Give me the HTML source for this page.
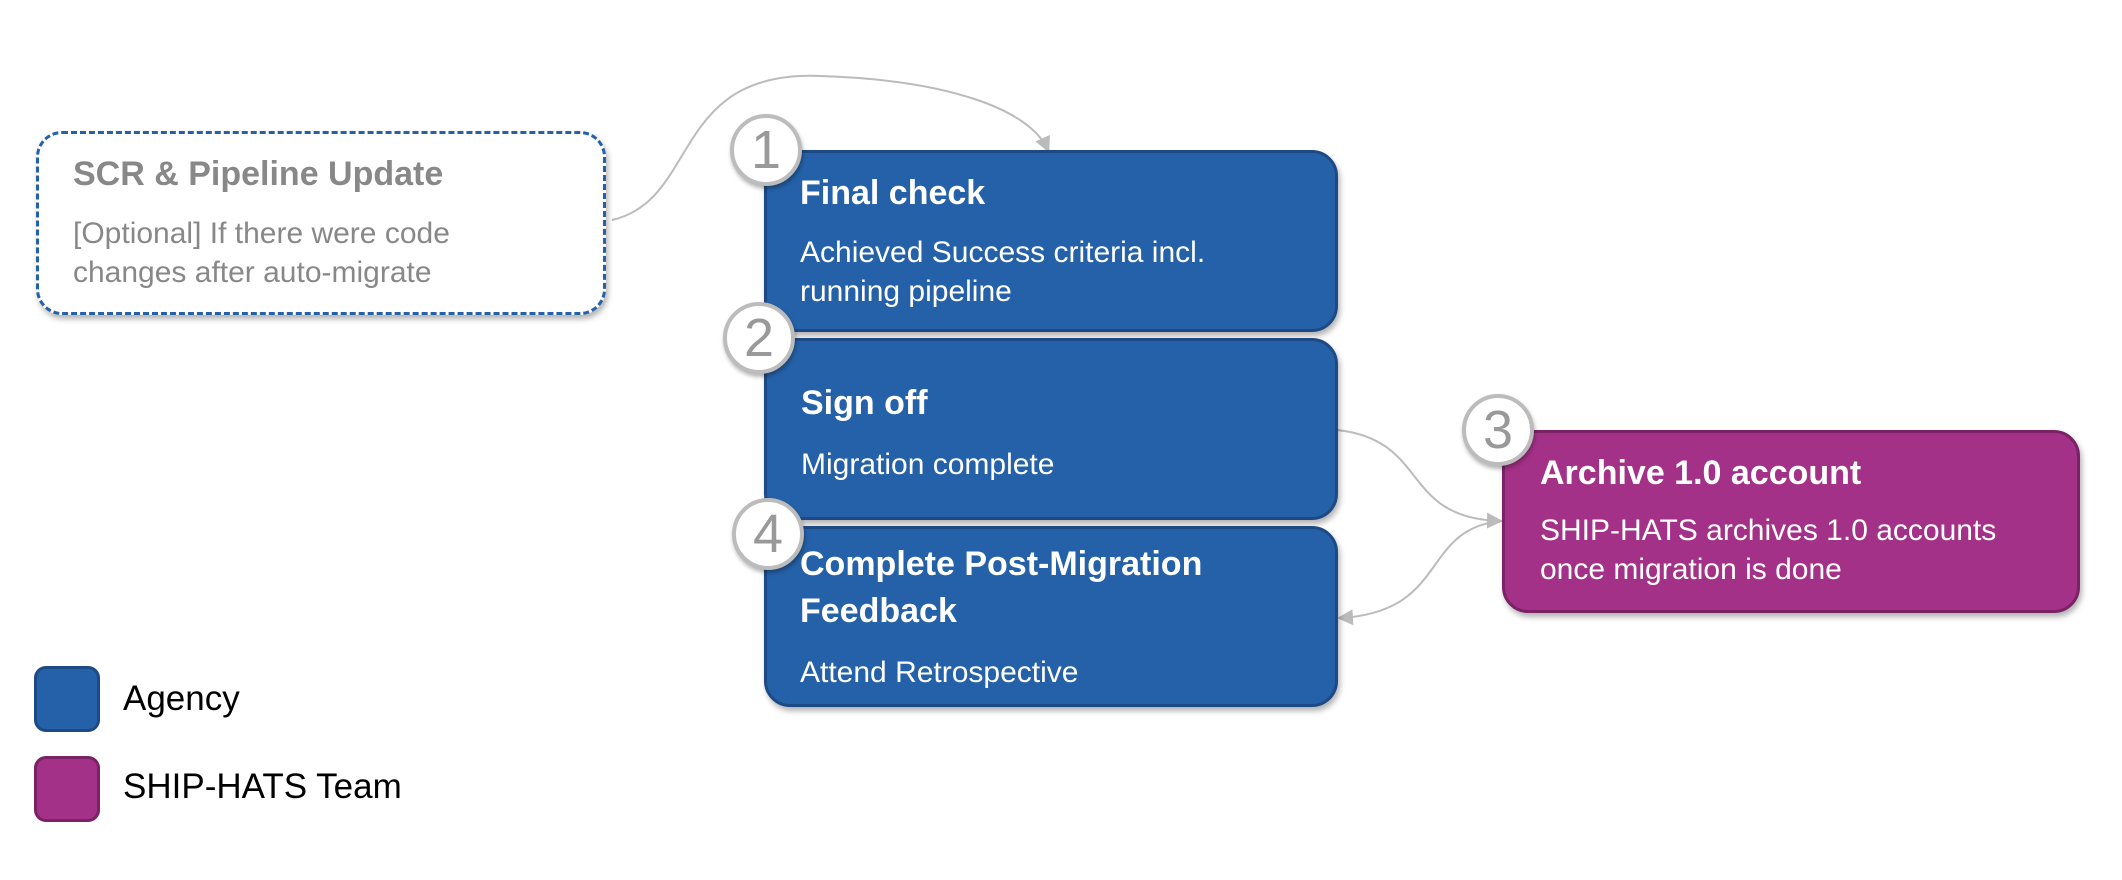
<!DOCTYPE html>
<html><head><meta charset="utf-8"><style>
body{margin:0;width:2122px;height:880px;background:#fff;position:relative;overflow:hidden;font-family:"Liberation Sans",sans-serif}
.b{position:absolute;box-sizing:border-box;border-radius:26px;color:#fff;box-shadow:2px 4px 6px rgba(0,0,0,0.3)}
.blue{background:#2561a8;border:3px solid #1d4a85}
.pink{background:#a43188;border:3px solid #7a2265}
.t{position:absolute;font-weight:bold;font-size:34px;white-space:nowrap;line-height:40px}
.d{position:absolute;font-size:30px;white-space:nowrap;line-height:39px}
.c{position:absolute;width:72px;height:72px;border-radius:50%;background:#fff;border:4px solid #bcbcbc;box-sizing:border-box;color:#999;font-size:54px;text-align:center;line-height:64px;box-shadow:1px 3px 4px rgba(0,0,0,0.3)}
.leg{position:absolute;font-size:35px;color:#000;white-space:nowrap}
</style></head><body>
<svg width="2122" height="880" style="position:absolute;left:0;top:0">
<defs><marker id="a" markerWidth="16" markerHeight="16" refX="13" refY="8" orient="auto" markerUnits="userSpaceOnUse" viewBox="0 0 16 16"><path d="M0,0 L16,8 L0,16 z" fill="#bbb"/></marker></defs>
<g fill="none" stroke="#bbb" stroke-width="2">
<path d="M612,220 C700,200 670,70 820,76 C950,80 1030,110 1048,150" marker-end="url(#a)"/>
<path d="M1337,430 C1430,440 1400,518 1500,521" marker-end="url(#a)"/>
<path d="M1502,521 C1420,528 1450,612 1340,618" marker-end="url(#a)"/>
</g></svg>
<div class="b" style="left:36px;top:131px;width:570px;height:184px;background:#fff;border:3px dashed #2561a8;color:#888">
<div class="t" style="left:34px;top:20px;color:#888">SCR &amp; Pipeline Update</div>
<div class="d" style="left:34px;top:80px;color:#888">[Optional] If there were code<br>changes after auto-migrate</div></div>
<div class="b blue" style="left:764px;top:150px;width:574px;height:182px">
<div class="t" style="left:33px;top:20px">Final check</div>
<div class="d" style="left:33px;top:80px">Achieved Success criteria incl.<br>running pipeline</div></div>
<div class="b blue" style="left:764px;top:338px;width:574px;height:182px">
<div class="t" style="left:34px;top:42px">Sign off</div>
<div class="d" style="left:34px;top:104px">Migration complete</div></div>
<div class="b blue" style="left:764px;top:526px;width:574px;height:181px">
<div class="t" style="left:33px;top:12px;line-height:47px">Complete Post-Migration<br>Feedback</div>
<div class="d" style="left:33px;top:124px">Attend Retrospective</div></div>
<div class="b pink" style="left:1502px;top:430px;width:578px;height:183px">
<div class="t" style="left:35px;top:20px">Archive 1.0 account</div>
<div class="d" style="left:35px;top:78px">SHIP-HATS archives 1.0 accounts<br>once migration is done</div></div>
<div class="c" style="left:730px;top:114px">1</div>
<div class="c" style="left:723px;top:302px">2</div>
<div class="c" style="left:732px;top:498px">4</div>
<div class="c" style="left:1462px;top:394px">3</div>
<div class="b blue" style="left:34px;top:666px;width:66px;height:66px;border-radius:12px;box-shadow:none"></div>
<div class="b pink" style="left:34px;top:756px;width:66px;height:66px;border-radius:12px;box-shadow:none"></div>
<div class="leg" style="left:123px;top:679px">Agency</div>
<div class="leg" style="left:123px;top:767px">SHIP-HATS Team</div>
</body></html>
